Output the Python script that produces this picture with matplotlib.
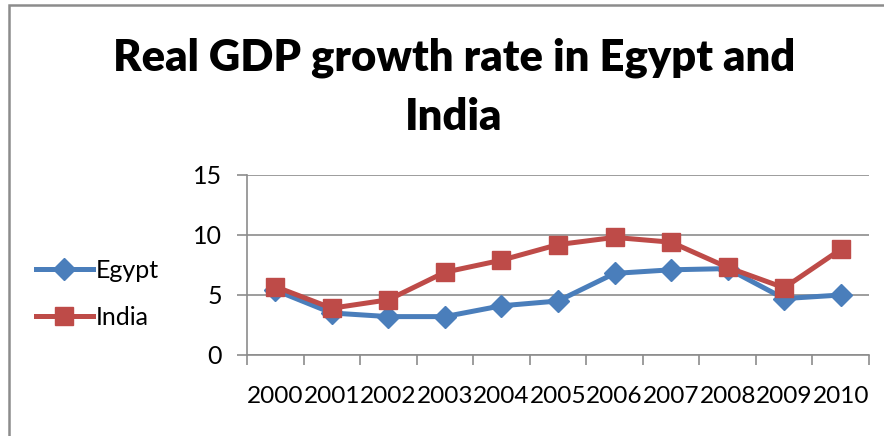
import matplotlib.pyplot as plt
from matplotlib.patches import Rectangle

years = ['2000', '2001', '2002', '2003', '2004', '2005', '2006', '2007', '2008', '2009', '2010']
egypt = [5.4, 3.5, 3.2, 3.2, 4.1, 4.5, 6.8, 7.1, 7.2, 4.7, 5.0]
india = [5.7, 3.9, 4.6, 6.9, 7.9, 9.2, 9.8, 9.4, 7.3, 5.6, 8.8]

plt.rcParams['font.family'] = ['Lato', 'DejaVu Sans']

fig = plt.figure(figsize=(8.84, 4.36), dpi=100)
ax = fig.add_axes([247/884, 1-355/436, (869-247)/884, (355-175)/436])

x = list(range(len(years)))
ax.plot(x, egypt, color='#4A7EBB', lw=3.6, marker='D', ms=11, label='Egypt', zorder=3)
ax.plot(x, india, color='#BE4B48', lw=3.6, marker='s', ms=12.5, label='India', zorder=4)

ax.set_xlim(-0.5, len(years) - 0.5)
ax.set_ylim(0, 15)
ax.set_yticks([0, 5, 10, 15])
ax.yaxis.grid(True, color='#8c8c8c', lw=1.2)
ax.set_axisbelow(True)

# category labels sit between the boundary ticks
ax.set_xticks([i - 0.5 for i in range(len(years) + 1)])
ax.set_xticklabels([])
ax.set_xticks(x, minor=True)
ax.set_xticklabels(years, minor=True, fontsize=17.6)
ax.tick_params(axis='x', which='major', length=7, color='#8c8c8c', width=1.2)
ax.tick_params(axis='x', which='minor', length=0, pad=22)
ax.tick_params(axis='y', length=7, color='#8c8c8c', width=1.2, labelsize=18, pad=11)

for s in ['top', 'right']:
    ax.spines[s].set_visible(False)
for s in ['left', 'bottom']:
    ax.spines[s].set_color('#8c8c8c')
    ax.spines[s].set_linewidth(1.2)

fig.legend(loc='center left', bbox_to_anchor=(13/884, 1-294/436), frameon=False,
           fontsize=18, handlelength=2.3, labelspacing=0.95, handletextpad=0.1)

fig.text(454/884, 1-70/436, 'Real GDP growth rate in Egypt and', ha='center', va='baseline',
         fontsize=31.3, fontweight='heavy')
fig.text(454/884, 1-130/436, 'India', ha='center', va='baseline', fontsize=31.3, fontweight='heavy')

fig.patches.append(Rectangle((9/884, -0.1), 1.2, 1.1 - 5/436, transform=fig.transFigure,
                             fill=False, edgecolor='#8c8c8c', lw=1.8))

fig.savefig('out.png', dpi=100)
